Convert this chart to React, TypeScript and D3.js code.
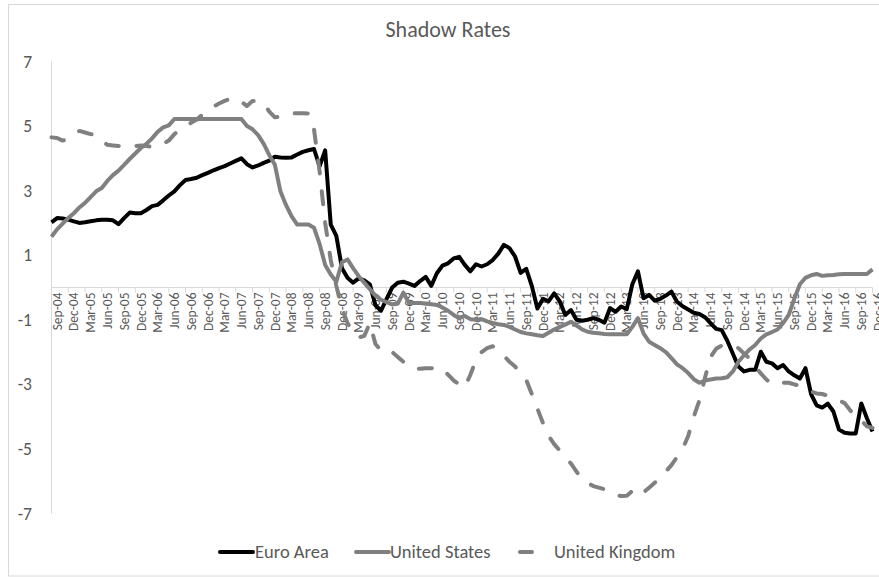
import * as d3 from "d3";

// Monthly shadow rates, Sep-04 .. Dec-16 (148 months)
const euroArea = [
  2.02, 2.15, 2.14, 2.1, 2.05, 2.0, 2.02, 2.05, 2.08, 2.1,
  2.1, 2.08, 1.96, 2.15, 2.32, 2.3, 2.3, 2.4, 2.52, 2.56,
  2.7, 2.85, 2.98, 3.17, 3.33, 3.36, 3.4, 3.48, 3.55, 3.63,
  3.7, 3.76, 3.84, 3.92, 4.0, 3.82, 3.72, 3.78, 3.86, 3.93,
  4.05, 4.03, 4.02, 4.03, 4.12, 4.2, 4.25, 4.29, 3.75, 4.25,
  1.95, 1.6, 0.6, 0.3, 0.15, 0.28, 0.22, 0.1, -0.55, -0.72,
  -0.35, 0.0, 0.15, 0.18, 0.12, 0.05, 0.2, 0.33, 0.05, 0.44,
  0.68, 0.75, 0.9, 0.95, 0.7, 0.5, 0.72, 0.65, 0.72, 0.85,
  1.05, 1.32, 1.22, 0.96, 0.45, 0.58, 0.05, -0.65, -0.35, -0.43,
  -0.18, -0.43, -0.85, -0.7, -1.0, -1.03, -1.0, -0.95, -1.0, -1.09,
  -0.64, -0.75, -0.59, -0.67, 0.1, 0.5, -0.33, -0.23, -0.41, -0.35,
  -0.25, -0.13, -0.44, -0.58, -0.68, -0.78, -0.82, -0.92, -1.1, -1.28,
  -1.32, -1.65, -2.05, -2.45, -2.6, -2.55, -2.55, -1.99, -2.3, -2.35,
  -2.5, -2.4, -2.6, -2.72, -2.82, -2.5, -3.3, -3.65, -3.72, -3.6,
  -3.84, -4.4, -4.5, -4.52, -4.52, -3.59, -4.05, -4.46,
];

const unitedStates = [
  1.57, 1.8, 1.98, 2.15, 2.3, 2.48, 2.62, 2.8, 2.98, 3.08,
  3.3, 3.48, 3.62, 3.8, 3.98, 4.15, 4.32, 4.45, 4.62, 4.82,
  4.96, 5.02, 5.22, 5.22, 5.22, 5.22, 5.22, 5.22, 5.22, 5.22,
  5.22, 5.22, 5.22, 5.22, 5.22, 5.0, 4.9, 4.72, 4.45, 4.1,
  3.8, 2.97, 2.55, 2.2, 1.95, 1.95, 1.95, 1.85, 1.35, 0.7,
  0.4, 0.18, 0.78, 0.87, 0.6, 0.35, 0.15, -0.05, -0.25, -0.38,
  -0.45, -0.52, -0.5, -0.16, -0.48, -0.48, -0.48, -0.5, -0.52, -0.54,
  -0.62, -0.72, -0.85, -0.95, -0.88, -0.98, -1.0, -0.98, -1.05, -1.1,
  -1.14, -1.16, -1.22, -1.3, -1.38, -1.42, -1.45, -1.48, -1.5, -1.4,
  -1.3, -1.22, -1.15, -1.06, -1.18, -1.3, -1.37, -1.4, -1.42, -1.44,
  -1.45, -1.45, -1.45, -1.45, -1.22, -0.95, -1.42, -1.68, -1.78, -1.88,
  -2.0, -2.19, -2.38, -2.5, -2.65, -2.84, -2.95, -2.88, -2.85, -2.82,
  -2.81, -2.78, -2.6, -2.3, -2.1, -1.92, -1.78, -1.58, -1.45, -1.38,
  -1.3, -1.1, -0.85, -0.35, 0.1, 0.3, 0.38, 0.42, 0.36, 0.38,
  0.39, 0.41, 0.42, 0.42, 0.42, 0.42, 0.42, 0.56,
];

const unitedKingdom = [
  4.65, 4.63, 4.55, 4.6, 4.75, 4.85, 4.8, 4.75, 4.72, 4.55,
  4.42, 4.4, 4.38, 4.42, 4.4, 4.38, 4.4, 4.38, 4.36, 4.36,
  4.45, 4.55, 4.75, 4.9, 5.0, 5.1, 5.2, 5.35, 5.5, 5.6,
  5.7, 5.78, 5.85, 5.86, 5.75, 5.62, 5.78, 5.78, 5.7, 5.45,
  5.27, 5.3, 5.38, 5.39, 5.4, 5.4, 5.39, 4.9, 3.6, 2.0,
  0.85, 0.05, -0.65, -1.1, -1.4, -1.55, -1.5, -1.1, -1.75, -1.95,
  -2.05, -2.0, -2.15, -2.3, -2.45, -2.5, -2.52, -2.5, -2.5, -2.48,
  -2.5, -2.7, -2.88, -3.0, -3.1, -2.7, -2.25, -2.0, -1.88, -1.82,
  -1.95, -2.12, -2.3, -2.45, -2.65, -2.86, -3.3, -3.75, -4.2, -4.6,
  -4.85, -5.05, -5.25, -5.45, -5.7, -5.95, -6.05, -6.15, -6.2, -6.25,
  -6.3, -6.42, -6.46, -6.45, -6.3, -6.2, -6.35, -6.2, -6.05, -5.85,
  -5.7, -5.5, -5.25, -5.0, -4.6, -4.0, -3.5, -2.8, -2.15, -1.9,
  -1.8, -1.78, -1.8, -1.88, -2.05, -2.2, -2.45, -2.66, -2.85, -3.0,
  -3.0, -2.95, -2.95, -3.0, -3.05, -3.18, -3.22, -3.28, -3.3, -3.35,
  -3.42, -3.5, -3.58, -3.8, -4.02, -4.12, -4.3, -4.35,
];

const months = d3.timeMonth.range(new Date(2004, 8, 1), new Date(2017, 0, 1));
const yTicks = [-7, -5, -3, -1, 1, 3, 5, 7];

const series = [
  { name: "Euro Area", values: euroArea, color: "#000000", dashed: false, legendX: 220, textX: 255 },
  { name: "United States", values: unitedStates, color: "#808080", dashed: false, legendX: 356, textX: 390 },
  { name: "United Kingdom", values: unitedKingdom, color: "#808080", dashed: true, legendX: 518, textX: 554 },
];

const FONT = "Carlito, Calibri, Lato, sans-serif";
const TEXT = "#595959";
const AXIS = "#d9d9d9";

export default function App() {
  const width = 879;
  const height = 577;

  const x = d3.scaleLinear().domain([0, months.length - 1]).range([51.5, 872.5]);
  const y = d3.scaleLinear().domain([-7, 7]).range([513.5, 61.5]);
  const fmt = d3.timeFormat("%b-%y");

  const line = d3
    .line<number>()
    .x((_, i) => x(i))
    .y((d) => y(d));

  const tickIdx = months.map((_, i) => i).filter((i) => i % 3 === 0);

  return (
    <svg
      width={width}
      height={height}
      style={{ position: "absolute", left: 0, top: 0, display: "block", background: "#fff" }}
      fontFamily={FONT}
    >
      <rect x={8.5} y={4.5} width={875} height={571.5} fill="#fff" stroke={AXIS} />

      {/* Title */}
      <text x={448} y={37} textAnchor="middle" fontSize={22} fill={TEXT}>
        Shadow Rates
      </text>

      {/* Y axis */}
      <line x1={x(0)} x2={x(0)} y1={y(7)} y2={y(-7)} stroke={AXIS} strokeWidth={1} />
      {yTicks.map((t) => (
        <text key={t} x={32} y={y(t)} dy="0.35em" textAnchor="end" fontSize={17.5} fill={TEXT}>
          {t}
        </text>
      ))}

      {/* X axis at zero */}
      <line x1={x(0)} x2={x(months.length - 1)} y1={y(0)} y2={y(0)} stroke={AXIS} strokeWidth={1} />
      {tickIdx.map((i) => (
        <g key={i}>
          <line x1={x(i)} x2={x(i)} y1={y(0)} y2={y(0) + 5} stroke={AXIS} />
          <text
            transform={`translate(${x(i) + 5.5},${y(0) + 5}) rotate(-90)`}
            textAnchor="end"
            dy="0.35em"
            fontSize={13.5}
            fill={TEXT}
          >
            {fmt(months[i])}
          </text>
        </g>
      ))}

      {/* Lines */}
      {series.map((s) => (
        <path
          key={s.name}
          d={line(s.values) ?? ""}
          fill="none"
          stroke={s.color}
          strokeWidth={4}
          strokeDasharray={s.dashed ? "13 18" : undefined}
          strokeLinecap={s.dashed ? "round" : "butt"}
          strokeLinejoin="round"
        />
      ))}

      {/* Legend */}
      {series.map((s) => (
        <g key={s.name}>
          <line
            x1={s.dashed ? s.legendX + 2 : s.legendX}
            x2={s.dashed ? s.legendX + 14 : s.legendX + 33}
            y1={552}
            y2={552}
            stroke={s.color}
            strokeWidth={4}
            strokeLinecap="round"
          />
          <text x={s.textX} y={552} dy="0.35em" fontSize={18.5} fill={TEXT}>
            {s.name}
          </text>
        </g>
      ))}
    </svg>
  );
}
